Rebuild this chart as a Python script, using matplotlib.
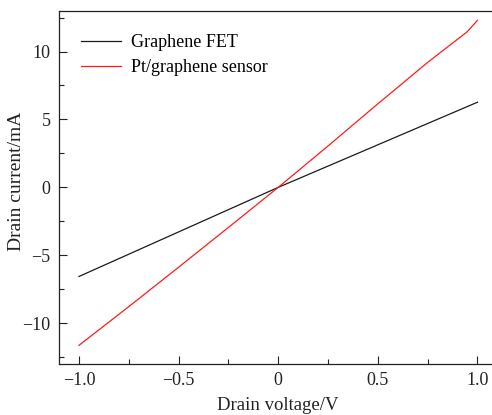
import matplotlib
matplotlib.use("Agg")
import matplotlib.pyplot as plt
from matplotlib.ticker import MultipleLocator

plt.rcParams['font.family'] = ['Liberation Serif', 'DejaVu Serif']

# I-V sweeps (V, mA)
fet_v = [-1.0, 0.0, 1.0]
fet_i = [-6.56, 0.0, 6.27]

sensor_v = [-1.0, -0.75, -0.5, -0.25, 0.0, 0.25, 0.5, 0.75, 0.864, 0.948, 1.0]
sensor_i = [-11.63, -8.78, -5.88, -2.95, 0.0, 3.05, 6.15, 9.2, 10.5, 11.45, 12.3]

fig = plt.figure(figsize=(4.92, 4.15), dpi=100)
ax = fig.add_axes([0.12, 0.123, 0.891, 0.851])

ax.plot(fet_v, fet_i, color='#1a1a1a', lw=0.9, label='Graphene FET')
ax.plot(sensor_v, sensor_i, color='#ff1a1a', lw=0.9, label='Pt/graphene sensor')

ax.set_xlim(-1.1, 1.1)
ax.set_ylim(-13, 13)
ax.xaxis.set_major_locator(MultipleLocator(0.5))
ax.xaxis.set_minor_locator(MultipleLocator(0.25))
ax.yaxis.set_major_locator(MultipleLocator(5))
ax.yaxis.set_minor_locator(MultipleLocator(2.5))
ax.xaxis.set_major_formatter(lambda v, p: '0' if abs(v) < 1e-9 else f'{v:.1f}'.replace('-', '\u2212'))
ax.yaxis.set_major_formatter(lambda v, p: f'{v:.0f}'.replace('-', '\u2212'))

ax.tick_params(which='both', direction='in', top=False, right=False, labelsize=13, colors='#222222')
ax.tick_params(which='major', length=6, width=0.8, pad=6)
ax.tick_params(which='minor', length=3.5, width=0.8)
for s in ax.spines.values():
    s.set_linewidth(0.9)
    s.set_color('#222222')

ax.set_xlabel('Drain voltage/V', fontsize=13.5, labelpad=5.5, color='#222222')
ax.set_ylabel('Drain current/mA', fontsize=14, color='#222222')
ax.yaxis.set_label_coords(-0.078, 0.518)

ax.legend(loc='upper left', bbox_to_anchor=(0.013, 0.98), frameon=False, fontsize=13,
          handlelength=2.2, handletextpad=0.55, labelspacing=0.46)

fig.savefig('out.png', dpi=100)
